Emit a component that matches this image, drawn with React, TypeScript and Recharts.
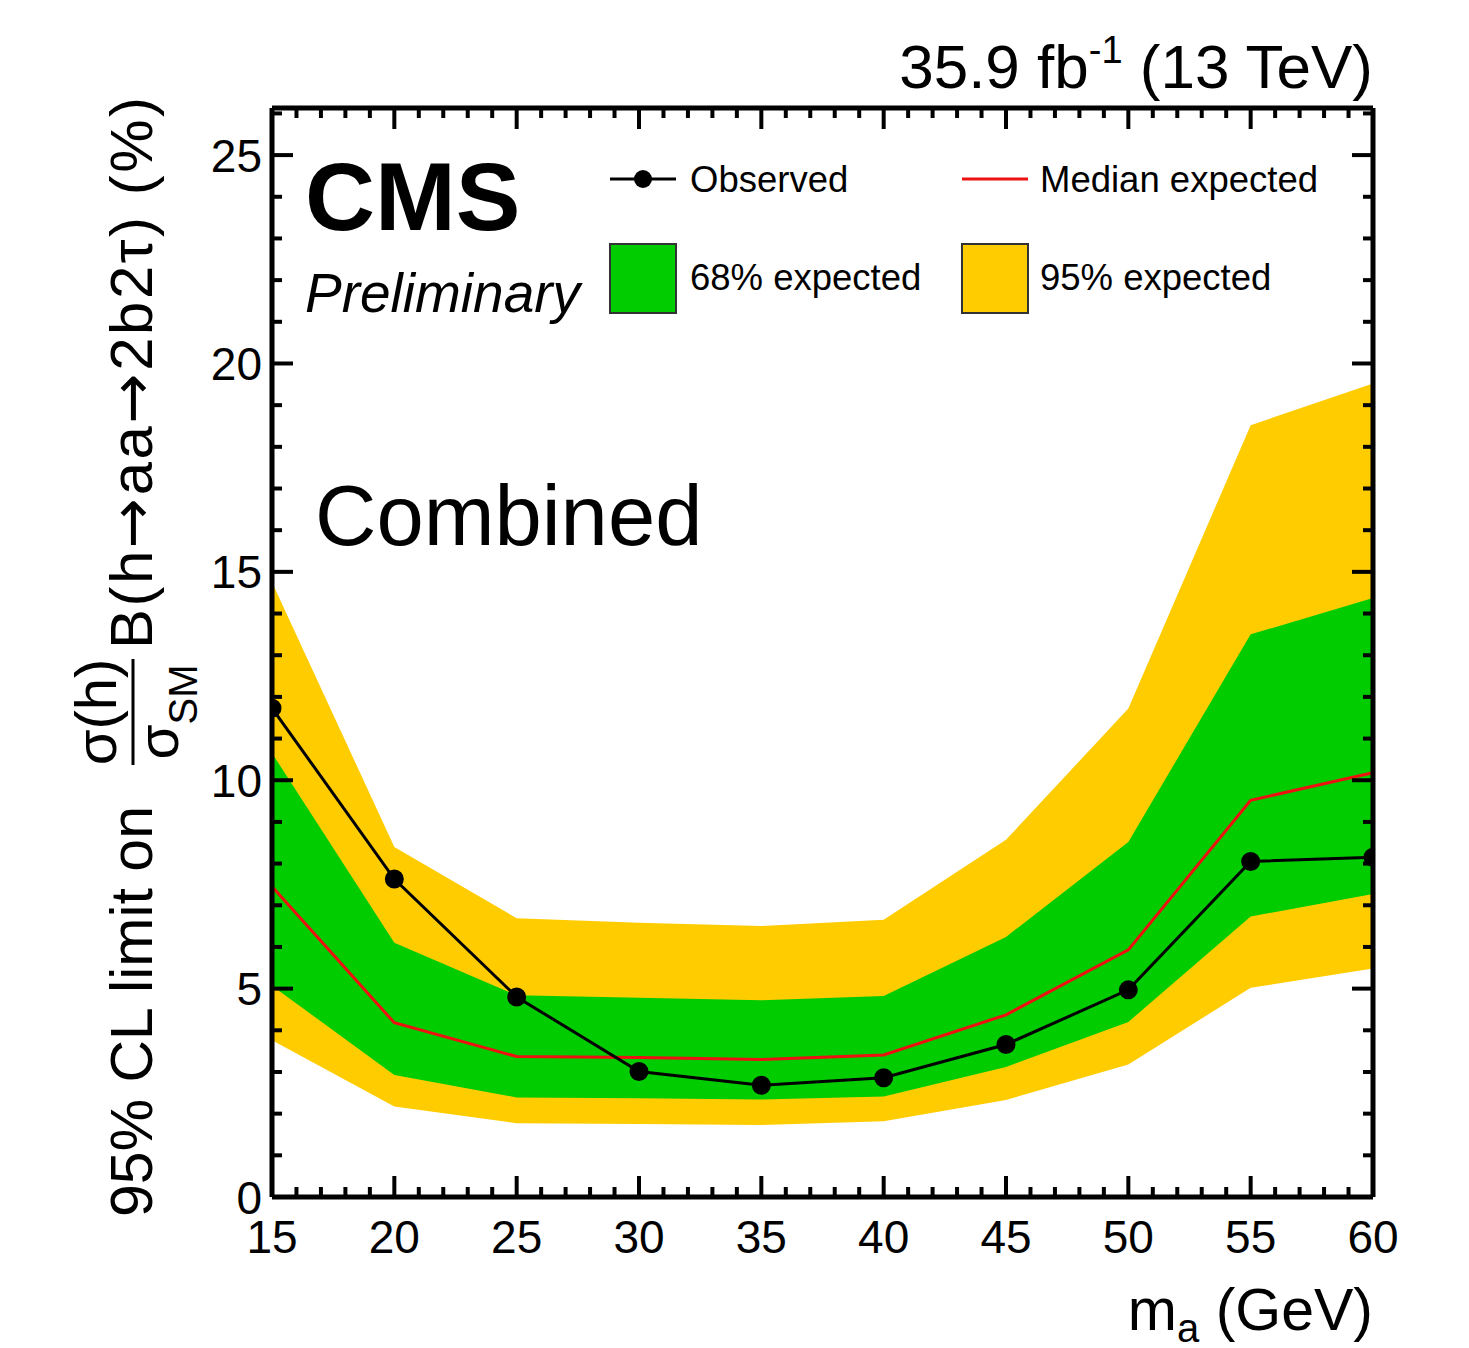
import React from 'react'
import { ComposedChart, Area, Line, XAxis, YAxis } from 'recharts'

const FONT = '"Liberation Sans", Arial, Helvetica, sans-serif'
const ARROW_FONT = '"DejaVu Sans", sans-serif'

// a mass points (GeV)
const mass = [15, 20, 25, 30, 35, 40, 45, 50, 55, 60]
// 95% CL limits (%)
const observed = [11.73, 7.63, 4.8, 3.01, 2.68, 2.86, 3.66, 4.97, 8.05, 8.15]
const expected = [7.45, 4.18, 3.37, 3.35, 3.3, 3.41, 4.37, 5.93, 9.52, 10.18]
const exp68Low = [5.07, 2.93, 2.39, 2.37, 2.34, 2.41, 3.12, 4.2, 6.73, 7.27]
const exp68High = [10.65, 6.1, 4.84, 4.78, 4.72, 4.82, 6.24, 8.52, 13.5, 14.37]
const exp95Low = [3.76, 2.17, 1.77, 1.75, 1.73, 1.82, 2.33, 3.18, 5.02, 5.48]
const exp95High = [14.75, 8.4, 6.69, 6.58, 6.5, 6.65, 8.57, 11.72, 18.52, 19.52]

// axis labels
const xMajor = [15, 20, 25, 30, 35, 40, 45, 50, 55, 60]
const yMajor = [0, 5, 10, 15, 20, 25]
const xTicks = Array.from({ length: 46 }, (_, i) => 15 + i)
const yTicks = Array.from({ length: 27 }, (_, i) => i)

const data = mass.map((m, i) => ({
  m,
  obs: observed[i],
  exp: expected[i],
  band68: [exp68Low[i], exp68High[i]],
  band95: [exp95Low[i], exp95High[i]],
}))

const MAJOR = 21
const MINOR = 10

function BottomTick({ x, y, payload }: any) {
  const v = payload.value
  const major = xMajor.includes(v)
  return (
    <g>
      <line x1={x} y1={y} x2={x} y2={y - (major ? MAJOR : MINOR)} stroke="#000" strokeWidth={4} />
      {major && (
        <text x={x} y={y + 56} textAnchor="middle" fontSize={46} fontFamily={FONT} fill="#000">
          {v}
        </text>
      )}
    </g>
  )
}

function TopTick({ x, y, payload }: any) {
  const major = xMajor.includes(payload.value)
  return <line x1={x} y1={y} x2={x} y2={y + (major ? MAJOR : MINOR)} stroke="#000" strokeWidth={4} />
}

function LeftTick({ x, y, payload }: any) {
  const v = payload.value
  const major = yMajor.includes(v)
  return (
    <g>
      <line x1={x} y1={y} x2={x + (major ? MAJOR : MINOR)} y2={y} stroke="#000" strokeWidth={4} />
      {major && (
        <text x={x - 10} y={y + 16.5} textAnchor="end" fontSize={46} fontFamily={FONT} fill="#000">
          {v}
        </text>
      )}
    </g>
  )
}

function RightTick({ x, y, payload }: any) {
  const major = yMajor.includes(payload.value)
  return <line x1={x} y1={y} x2={x - (major ? MAJOR : MINOR)} y2={y} stroke="#000" strokeWidth={4} />
}

const frame = { stroke: '#000', strokeWidth: 5 }

export default function App() {
  return (
    <div style={{ position: 'absolute', left: 0, top: 0, width: 1469, height: 1348, background: '#fff' }}>
      <ComposedChart
        width={1469}
        height={1348}
        data={data}
        margin={{ top: 98, right: 86, bottom: 91, left: 212 }}
      >
        <Area dataKey="band95" type="linear" fill="#ffcc00" fillOpacity={1} stroke="none" isAnimationActive={false} />
        <Area dataKey="band68" type="linear" fill="#00cc00" fillOpacity={1} stroke="none" isAnimationActive={false} />
        <Line dataKey="exp" type="linear" stroke="#ee1111" strokeWidth={3} dot={false} isAnimationActive={false} />
        <Line
          dataKey="obs"
          type="linear"
          stroke="#000"
          strokeWidth={3}
          dot={{ r: 8.5, fill: '#000', stroke: '#000', strokeWidth: 2 }}
          isAnimationActive={false}
        />
        <XAxis
          dataKey="m"
          type="number"
          domain={[15, 60]}
          allowDataOverflow
          ticks={xTicks}
          interval={0}
          tickLine={false}
          tickSize={0}
          tickMargin={0}
          axisLine={frame}
          height={60}
          tick={(p: any) => <BottomTick {...p} />}
        />
        <XAxis
          xAxisId="top"
          orientation="top"
          dataKey="m"
          type="number"
          domain={[15, 60]}
          allowDataOverflow
          ticks={xTicks}
          interval={0}
          tickLine={false}
          tickSize={0}
          tickMargin={0}
          axisLine={frame}
          height={10}
          tick={(p: any) => <TopTick {...p} />}
        />
        <YAxis
          type="number"
          domain={[0, 26.13]}
          allowDataOverflow
          ticks={yTicks}
          interval={0}
          tickLine={false}
          tickSize={0}
          tickMargin={0}
          axisLine={frame}
          width={60}
          tick={(p: any) => <LeftTick {...p} />}
        />
        <YAxis
          yAxisId="right"
          orientation="right"
          type="number"
          domain={[0, 26.13]}
          allowDataOverflow
          ticks={yTicks}
          interval={0}
          tickLine={false}
          tickSize={0}
          tickMargin={0}
          axisLine={frame}
          width={10}
          tick={(p: any) => <RightTick {...p} />}
        />
      </ComposedChart>

      <svg
        width={1469}
        height={1348}
        style={{ position: 'absolute', left: 0, top: 0, pointerEvents: 'none' }}
        fontFamily={FONT}
      >
        <text x={1373} y={88} textAnchor="end" fontSize={62} fill="#000">
          35.9 fb
          <tspan fontSize={38} dy={-25}>-1</tspan>
          <tspan dy={25}> (13 TeV)</tspan>
        </text>

        <text x={305} y={230} fontSize={97} fontWeight="bold" fill="#000">CMS</text>
        <text x={305} y={312} fontSize={55} fontStyle="italic" fill="#000">Preliminary</text>
        <text x={315} y={545} fontSize={85} fill="#000">Combined</text>

        {/* legend */}
        <line x1={610} y1={179} x2={676} y2={179} stroke="#000" strokeWidth={3} />
        <circle cx={643} cy={179} r={9} fill="#000" />
        <text x={690} y={192} fontSize={36.5} fill="#000">Observed</text>
        <line x1={962} y1={179} x2={1028} y2={179} stroke="#ee1111" strokeWidth={3} />
        <text x={1040} y={192} fontSize={36.5} fill="#000">Median expected</text>
        <rect x={610} y={244} width={66} height={69} fill="#00cc00" stroke="#333" strokeWidth={2} />
        <text x={690} y={290} fontSize={36.5} fill="#000">68% expected</text>
        <rect x={962} y={244} width={66} height={69} fill="#ffcc00" stroke="#333" strokeWidth={2} />
        <text x={1040} y={290} fontSize={36.5} fill="#000">95% expected</text>

        {/* x title */}
        <text x={1373} y={1330} textAnchor="end" fontSize={59} fill="#000">
          m
          <tspan fontSize={40} dy={12}>a</tspan>
          <tspan dy={-12}> (GeV)</tspan>
        </text>

        {/* y title */}
        <g transform="translate(152,1217) rotate(-90)">
          <text x={0} y={0} fontSize={59} fill="#000">95% CL limit on</text>
          <text x={505} y={-36} textAnchor="middle" fontSize={58} fill="#000">σ(h)</text>
          <line x1={452} y1={-19} x2={558} y2={-19} stroke="#000" strokeWidth={3} />
          <text x={505} y={26} textAnchor="middle" fontSize={57} fill="#000">
            σ
            <tspan fontSize={40} dy={19}>SM</tspan>
          </text>
          <text x={568} y={0} fontSize={60} letterSpacing={2.5} fill="#000">
            B(h
            <tspan fontFamily={ARROW_FONT}>→</tspan>
            aa
            <tspan fontFamily={ARROW_FONT}>→</tspan>
            2b2τ)  (%)
          </text>
        </g>
      </svg>
    </div>
  )
}
